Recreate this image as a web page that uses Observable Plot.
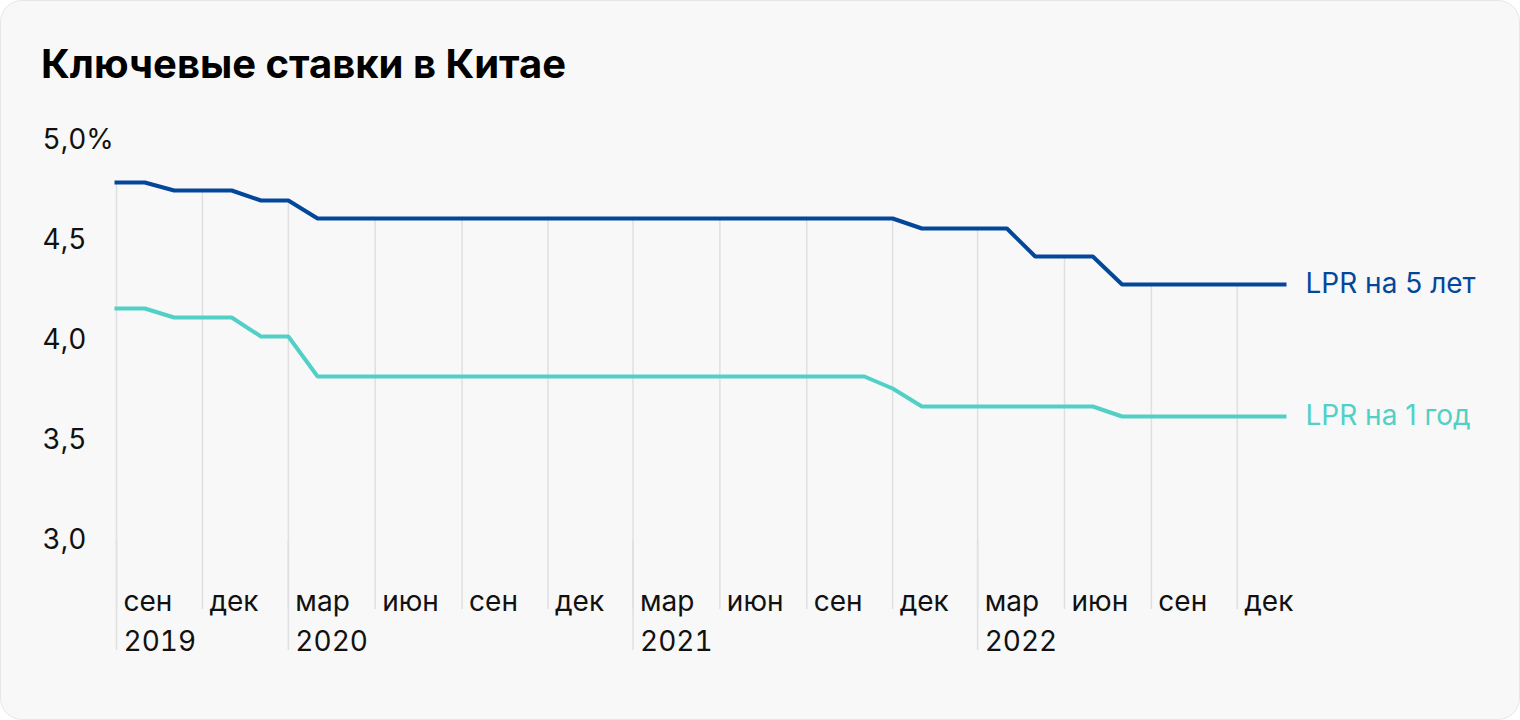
<!DOCTYPE html>
<html><head><meta charset="utf-8">
<script src="https://cdn.jsdelivr.net/npm/d3@7"></script>
<script src="https://cdn.jsdelivr.net/npm/@observablehq/plot@0.6"></script>
<style>
html,body{margin:0;padding:0;background:#fff;}
#card{position:absolute;left:0;top:0;width:1520px;height:720px;box-sizing:border-box;border:1px solid #e6e6e6;border-radius:22px;background:#f8f8f8;}
#title{position:absolute;left:41px;top:44px;font:700 40px/1 Inter, sans-serif;color:#000;white-space:nowrap;}
#chart{position:absolute;left:0;top:0;}
</style></head><body>
<div id="card"></div>
<div id="title">Ключевые ставки в Китае</div>
<div id="chart"></div>
<script>
const dates = [
  "2019-09-01","2019-10-01","2019-11-01","2019-12-01",
  "2020-01-01","2020-02-01","2020-03-01","2020-04-01","2020-05-01","2020-06-01",
  "2020-07-01","2020-08-01","2020-09-01","2020-10-01","2020-11-01","2020-12-01",
  "2021-01-01","2021-02-01","2021-03-01","2021-04-01","2021-05-01","2021-06-01",
  "2021-07-01","2021-08-01","2021-09-01","2021-10-01","2021-11-01","2021-12-01",
  "2022-01-01","2022-02-01","2022-03-01","2022-04-01","2022-05-01","2022-06-01",
  "2022-07-01","2022-08-01","2022-09-01","2022-10-01","2022-11-01","2022-12-01",
  "2023-01-20"
];
const lpr5 = [
  4.79,4.79,4.75,4.75,
  4.75,4.70,4.70,4.61,4.61,4.61,4.61,4.61,4.61,4.61,4.61,4.61,
  4.61,4.61,4.61,4.61,4.61,4.61,4.61,4.61,4.61,4.61,4.61,4.61,
  4.56,4.56,4.56,4.56,4.42,4.42,4.42,4.28,4.28,4.28,4.28,4.28,
  4.28
];
const lpr1 = [
  4.16,4.16,4.115,4.115,
  4.115,4.02,4.02,3.82,3.82,3.82,3.82,3.82,3.82,3.82,3.82,3.82,
  3.82,3.82,3.82,3.82,3.82,3.82,3.82,3.82,3.82,3.82,3.82,3.76,
  3.67,3.67,3.67,3.67,3.67,3.67,3.67,3.62,3.62,3.62,3.62,3.62,
  3.62
];
const seriesNames = ["LPR на 5 лет", "LPR на 1 год"];
const seriesColors = ["#03479b", "#52d0c6"];
const tickDates = [
  "2019-09-01","2019-12-01","2020-03-01","2020-06-01","2020-09-01","2020-12-01",
  "2021-03-01","2021-06-01","2021-09-01","2021-12-01","2022-03-01","2022-06-01",
  "2022-09-01","2022-12-01"
];
const monthNames = {2: "мар", 5: "июн", 8: "сен", 11: "дек"};
const yearTickDates = ["2019-09-01","2020-03-01","2021-03-01","2022-03-01"];
const yTicks = [3, 3.5, 4, 4.5, 5];

const parse = s => new Date(s + "T00:00:00Z");
const rows5 = dates.map((d, i) => ({date: parse(d), value: lpr5[i]}));
const rows1 = dates.map((d, i) => ({date: parse(d), value: lpr1[i]}));
const byDate5 = new Map(dates.map((d, i) => [d, lpr5[i]]));
const grid = tickDates.map(d => ({date: parse(d), top: byDate5.get(d)}));
const yMin = d3.min(yTicks);
const ends = [
  {date: rows5[rows5.length - 1].date, value: lpr5[lpr5.length - 1], name: seriesNames[0], color: seriesColors[0]},
  {date: rows1[rows1.length - 1].date, value: lpr1[lpr1.length - 1], name: seriesNames[1], color: seriesColors[1]}
];
const gridColor = "#e0e0e0";
const monthTickLen = 69, yearTickLen = 110;

const chart = Plot.plot({
  width: 1520,
  height: 720,
  marginTop: 140,
  marginBottom: 180,
  marginLeft: 116,
  marginRight: 236,
  style: {background: "transparent", fontFamily: "Inter, sans-serif", fontSize: "28px", color: "#111", overflow: "visible"},
  x: {type: "utc", domain: [rows5[0].date, rows5[rows5.length - 1].date]},
  y: {domain: [yMin, d3.max(yTicks)]},
  marks: [
    Plot.ruleX(grid, {x: "date", y1: "top", y2: () => yMin, stroke: gridColor, strokeWidth: 1.5}),
    // tick lines only
    Plot.axisX(tickDates.map(parse), {tickSize: monthTickLen, tickFormat: () => "", stroke: gridColor, strokeWidth: 1.5}),
    Plot.axisX(yearTickDates.map(parse), {tickSize: yearTickLen, tickFormat: () => "", stroke: gridColor, strokeWidth: 1.5}),
    // tick labels
    Plot.axisX(tickDates.map(parse), {
      tickSize: 0, tickPadding: monthTickLen + 1, lineAnchor: "bottom", textAnchor: "start", dx: 7,
      tickFormat: d => monthNames[d.getUTCMonth()], fontSize: 28, fill: "#111"
    }),
    Plot.axisX(yearTickDates.map(parse), {
      tickSize: 0, tickPadding: yearTickLen, lineAnchor: "bottom", textAnchor: "start", dx: 7,
      tickFormat: d => String(d.getUTCFullYear()), fontSize: 28, fill: "#111"
    }),
    Plot.axisY(yTicks, {
      tickSize: 0, tickPadding: 74, textAnchor: "start", fontSize: 28, fill: "#111",
      tickFormat: d => d.toFixed(1).replace(".", ",") + (d === d3.max(yTicks) ? "%" : "")
    }),
    Plot.line(rows1, {x: "date", y: "value", stroke: seriesColors[1], strokeWidth: 4, strokeLinecap: "square", strokeLinejoin: "miter"}),
    Plot.line(rows5, {x: "date", y: "value", stroke: seriesColors[0], strokeWidth: 4, strokeLinecap: "square", strokeLinejoin: "miter"}),
    Plot.text(ends, {x: "date", y: "value", text: "name", fill: "color", textAnchor: "start", dx: 21, fontSize: 28})
  ]
});
document.getElementById("chart").appendChild(chart);
</script>
</body></html>
